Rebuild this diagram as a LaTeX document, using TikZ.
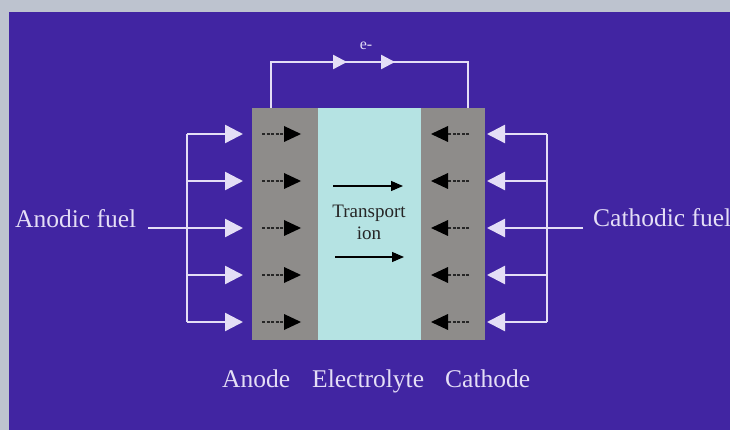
\documentclass[tikz,border=0pt]{standalone}
\usepackage{fontspec}
\setmainfont{Liberation Serif}
\usetikzlibrary{arrows.meta}
\definecolor{bgblue}{HTML}{4125A2}
\definecolor{frame}{HTML}{BDC3CF}
\definecolor{elgrey}{HTML}{8E8C8A}
\definecolor{elcyan}{HTML}{B5E3E3}
\definecolor{wline}{HTML}{E4DEF6}
\tikzset{
  slab/.style={draw=none,inner sep=0pt,minimum height=232pt},
  fuelline/.style={draw=wline,line width=2.4pt},
  fuelarrow/.style={fuelline,-{Triangle[length=18pt,width=18pt]}},
  wirearrow/.style={fuelline,-{Triangle[length=14pt,width=14pt]}},
  blackarrow/.style={draw=black!85,line width=1.3pt,dash pattern=on 3pt off 1.5pt,
     -{Triangle[length=17pt,width=16pt,fill=black,line width=0pt,sep=0pt]}},
  ionarrow/.style={draw=black,line width=1.1pt,-{Triangle[length=12pt,width=10pt]}},
  lbl/.style={text=wline,font=\fontsize{25.5}{28}\selectfont,inner sep=0pt,anchor=base west},
}
\begin{document}
\begin{tikzpicture}[x=1pt,y=-1pt]
\useasboundingbox (0,0) rectangle (730,430);
\fill[frame] (0,0) rectangle (730,430);
\fill[bgblue] (9,12) rectangle (730,430);
% slabs
\node[slab,fill=elgrey,minimum width=66pt] (anode) at (285,224) {};
\node[slab,fill=elcyan,minimum width=103pt] (electrolyte) at (369.5,224) {};
\node[slab,fill=elgrey,minimum width=64pt] (cathode) at (453,224) {};
% external wire
\coordinate (wa) at (271,108);
\coordinate (wb) at (468,108);
\coordinate (wtop) at (0,62);
\draw[fuelline] (wa) -- (wa |- wtop) -- (wb |- wtop) -- (wb);
\coordinate (e1s) at (330,62); \coordinate (e1e) at (347,62);
\coordinate (e2s) at (378,62); \coordinate (e2e) at (395,62);
\draw[wirearrow] (e1s) -- (e1e);
\draw[wirearrow] (e2s) -- (e2e);
\node[text=wline,font=\fontsize{16}{18}\selectfont,inner sep=0pt] (eminus) at (366,46) {e-};
% fuel feed lines
\coordinate (lt) at (187,134); \coordinate (lb) at (187,322);
\coordinate (rt) at (547,134); \coordinate (rb) at (547,322);
\draw[fuelline] (lt) -- (lb);
\draw[fuelline] (rt) -- (rb);
\foreach \i/\y in {1/134,2/181,3/228,4/275,5/322}{
  \coordinate (ls\i) at (187,\y); \coordinate (le\i) at (243,\y);
  \coordinate (rs\i) at (547,\y); \coordinate (re\i) at (487,\y);
  \coordinate (as\i) at (262,\y); \coordinate (ae\i) at (301,\y);
  \coordinate (cs\i) at (469,\y); \coordinate (ce\i) at (431,\y);
}
\foreach \i in {1,2,4,5}{
  \draw[fuelarrow] (ls\i) -- (le\i);
  \draw[fuelarrow] (rs\i) -- (re\i);
}
\coordinate (af) at (148,228);
\coordinate (cf) at (583,228);
\draw[fuelarrow] (af) -- (le3);
\draw[fuelarrow] (cf) -- (re3);
\foreach \i in {1,...,5}{
  \draw[blackarrow] (as\i) -- (ae\i);
  \draw[blackarrow] (cs\i) -- (ce\i);
}
% ion transport
\coordinate (i1s) at (333,186); \coordinate (i1e) at (403,186);
\coordinate (i2s) at (335,257); \coordinate (i2e) at (404,257);
\draw[ionarrow] (i1s) -- (i1e);
\draw[ionarrow] (i2s) -- (i2e);
\node[font=\fontsize{19}{22}\selectfont,align=center,inner sep=0pt,text=black!85] (transport) at (369,222) {Transport\\ion};
% labels
\node[lbl] (anodicfuel) at (15,228) {Anodic fuel};
\node[lbl] (cathodicfuel) at (593,227) {Cathodic fuel};
\node[lbl] (anodelbl) at (222,387) {Anode};
\node[lbl] (electrolytelbl) at (312,387) {Electrolyte};
\node[lbl] (cathodelbl) at (445,387) {Cathode};
\end{tikzpicture}
\end{document}
